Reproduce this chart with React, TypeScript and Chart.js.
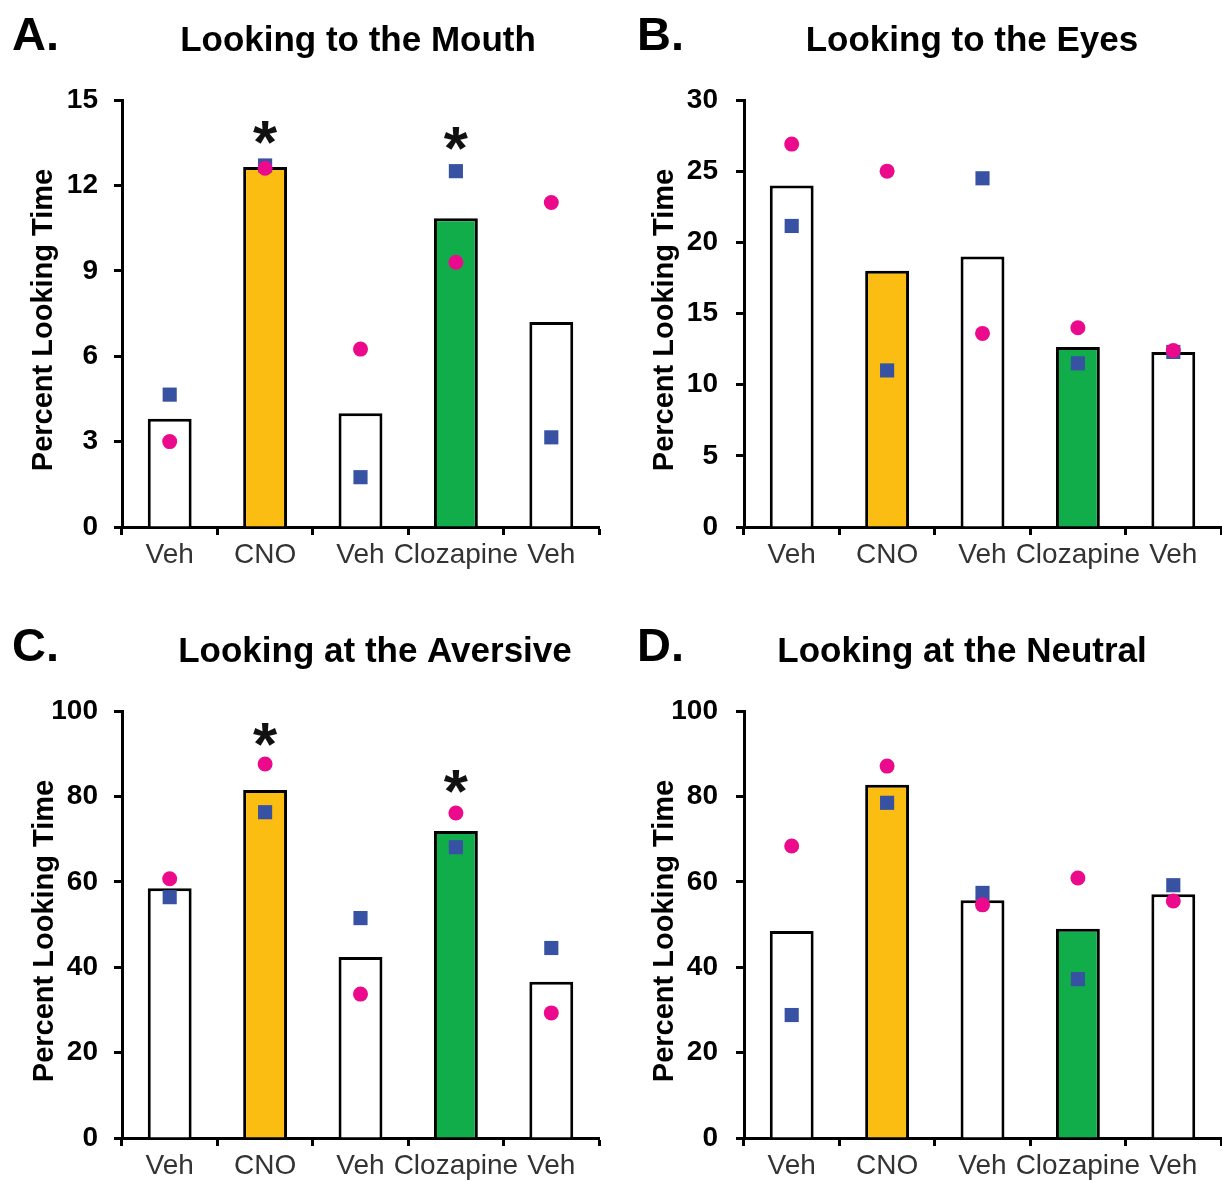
import React, { useEffect, useRef } from 'react';
import { Chart, registerables } from 'chart.js';

Chart.register(...registerables);

// ---------- Data ----------
const categories = ['Veh', 'CNO', 'Veh', 'Clozapine', 'Veh'];

const mouthMeans = [3.8, 12.65, 4.0, 10.85, 7.2];
const mouthSquares = [4.65, 12.7, 1.75, 12.5, 3.15];
const mouthCircles = [3.0, 12.6, 6.25, 9.3, 11.4];
const mouthStars = [null, 13.85, null, 13.65, null];

const eyesMeans = [24.0, 18.0, 19.0, 12.65, 12.3];
const eyesSquares = [21.15, 11.0, 24.5, 11.5, 12.3];
const eyesCircles = [26.9, 25.0, 13.6, 14.0, 12.4];
const eyesStars = [null, null, null, null, null];

const aversiveMeans = [58.5, 81.5, 42.4, 71.9, 36.6];
const aversiveSquares = [56.4, 76.3, 51.5, 68.1, 44.5];
const aversiveCircles = [60.7, 87.6, 33.7, 76.1, 29.3];
const aversiveStars = [null, 94.4, null, 83.6, null];

const neutralMeans = [48.5, 82.7, 55.7, 49.0, 57.1];
const neutralSquares = [28.8, 78.5, 57.4, 37.2, 59.2];
const neutralCircles = [68.4, 87.1, 54.6, 60.9, 55.5];
const neutralStars = [null, null, null, null, null];

const yTitle = 'Percent Looking Time';

// ---------- Styles ----------
const FONT = "'Liberation Sans', Arial, Helvetica, sans-serif";
const WHITE = '#FFFFFF';
const YELLOW = '#FCBD12';
const GREEN = '#12AD4B';
const PINK = '#EC0A8C';
const BLUE = '#3752A3';
const barFills = [WHITE, YELLOW, WHITE, GREEN, WHITE];

const W = 611;
const H = 570;

type PanelProps = {
  letter: string;
  letterX: number;
  title: string;
  titleCenter: number;
  means: number[];
  squares: number[];
  circles: number[];
  stars: (number | null)[];
  yMax: number;
  yStep: number;
  axisLeft: number;
  axisRight: number;
  yTitleX: number;
  yTickPad: number;
  left: number;
  top: number;
};

function Panel(p: PanelProps) {
  const ref = useRef<HTMLCanvasElement>(null);

  useEffect(() => {
    if (!ref.current) return;
    const overlay = {
      id: 'overlay',
      afterDatasetsDraw(chart: any) {
        const ctx = chart.ctx;
        const xs = chart.scales.x;
        const ys = chart.scales.y;
        ctx.save();
        ctx.fillStyle = '#111';
        ctx.font = `bold 62px ${FONT}`;
        ctx.textAlign = 'center';
        ctx.textBaseline = 'alphabetic';
        p.stars.forEach((v, i) => {
          if (v === null || v === undefined) return;
          const m = ctx.measureText('*');
          const cx = xs.getPixelForValue(i);
          const cy = ys.getPixelForValue(v);
          const off = (m.actualBoundingBoxAscent - m.actualBoundingBoxDescent) / 2;
          ctx.fillText('*', cx, cy + off);
        });
        ctx.restore();
      },
      afterDraw(chart: any) {
        const ctx = chart.ctx;
        ctx.save();
        ctx.fillStyle = '#000';
        ctx.textBaseline = 'alphabetic';
        ctx.font = `bold 47px ${FONT}`;
        ctx.textAlign = 'left';
        ctx.fillText(p.letter, p.letterX, 50);
        ctx.font = `bold 35px ${FONT}`;
        ctx.textAlign = 'center';
        ctx.fillText(p.title, p.titleCenter, 51);
        // y-axis title
        ctx.translate(p.yTitleX, 320);
        ctx.rotate(-Math.PI / 2);
        ctx.font = `bold 29px ${FONT}`;
        ctx.textAlign = 'center';
        ctx.textBaseline = 'middle';
        ctx.fillText(yTitle, 0, 0);
        ctx.restore();
      },
    };

    const chart = new Chart(ref.current, {
      type: 'bar',
      data: {
        labels: categories,
        datasets: [
          {
            type: 'line',
            data: p.circles,
            showLine: false,
            pointStyle: 'circle',
            pointRadius: 7.5,
            pointHoverRadius: 7.5,
            pointBackgroundColor: PINK,
            pointBorderWidth: 0,
            borderColor: PINK,
            backgroundColor: PINK,
            order: 1,
          } as any,
          {
            type: 'line',
            data: p.squares,
            showLine: false,
            pointStyle: 'rect',
            pointRadius: 10,
            pointHoverRadius: 10,
            pointBackgroundColor: BLUE,
            pointBorderWidth: 0,
            borderColor: BLUE,
            backgroundColor: BLUE,
            order: 2,
          } as any,
          {
            type: 'bar',
            data: p.means,
            backgroundColor: barFills,
            borderColor: '#000',
            borderWidth: 3,
            barPercentage: 0.46,
            categoryPercentage: 1,
            order: 3,
          } as any,
        ],
      },
      options: {
        responsive: false,
        animation: false,
        devicePixelRatio: 1,
        layout: {
          autoPadding: false,
          padding: { top: 100, left: 0, right: W - p.axisRight, bottom: 0 },
        },
        plugins: {
          legend: { display: false },
          tooltip: { enabled: false },
          title: { display: false },
        },
        scales: {
          x: {
            type: 'category',
            offset: true,
            grid: {
              offset: true,
              display: true,
              drawOnChartArea: false,
              drawTicks: true,
              tickLength: 8,
              tickWidth: 3,
              tickColor: '#000',
            },
            border: { display: true, color: '#000', width: 3 },
            ticks: {
              color: '#333',
              font: { family: FONT, size: 28 },
              padding: 3,
              maxRotation: 0,
              autoSkip: false,
            },
            afterFit: (s: any) => {
              s.height = 43;
              s.paddingLeft = 0;
              s.paddingRight = 0;
            },
          },
          y: {
            min: 0,
            max: p.yMax,
            ticks: {
              stepSize: p.yStep,
              color: '#000',
              font: { family: FONT, size: 28, weight: 'bold' },
              padding: p.yTickPad,
            },
            grid: {
              display: true,
              drawOnChartArea: false,
              drawTicks: true,
              tickLength: 8,
              tickWidth: 3,
              tickColor: '#000',
            },
            border: { display: true, color: '#000', width: 3 },
            title: { display: false },
            afterFit: (s: any) => {
              s.width = p.axisLeft;
            },
          },
        },
      } as any,
      plugins: [overlay],
    });
    return () => chart.destroy();
  }, []);

  return (
    <canvas
      ref={ref}
      width={W}
      height={H}
      style={{ position: 'absolute', left: p.left, top: p.top, width: W, height: H }}
    />
  );
}

export default function App() {
  return (
    <div
      style={{
        position: 'absolute',
        left: 0,
        top: 0,
        width: 1222,
        height: 1181,
        background: '#fff',
        overflow: 'hidden',
      }}
    >
      <Panel
        letter="A."
        letterX={12}
        title="Looking to the Mouth"
        titleCenter={358}
        means={mouthMeans}
        squares={mouthSquares}
        circles={mouthCircles}
        stars={mouthStars}
        yMax={15}
        yStep={3}
        axisLeft={122}
        axisRight={599}
        yTitleX={44}
        yTickPad={16}
        left={0}
        top={0}
      />
      <Panel
        letter="B."
        letterX={26}
        title="Looking to the Eyes"
        titleCenter={361}
        means={eyesMeans}
        squares={eyesSquares}
        circles={eyesCircles}
        stars={eyesStars}
        yMax={30}
        yStep={5}
        axisLeft={133}
        axisRight={610}
        yTitleX={54}
        yTickPad={18}
        left={611}
        top={0}
      />
      <Panel
        letter="C."
        letterX={12}
        title="Looking at the Aversive"
        titleCenter={375}
        means={aversiveMeans}
        squares={aversiveSquares}
        circles={aversiveCircles}
        stars={aversiveStars}
        yMax={100}
        yStep={20}
        axisLeft={122}
        axisRight={599}
        yTitleX={45}
        yTickPad={16}
        left={0}
        top={611}
      />
      <Panel
        letter="D."
        letterX={26}
        title="Looking at the Neutral"
        titleCenter={351}
        means={neutralMeans}
        squares={neutralSquares}
        circles={neutralCircles}
        stars={neutralStars}
        yMax={100}
        yStep={20}
        axisLeft={133}
        axisRight={610}
        yTitleX={54}
        yTickPad={18}
        left={611}
        top={611}
      />
    </div>
  );
}
